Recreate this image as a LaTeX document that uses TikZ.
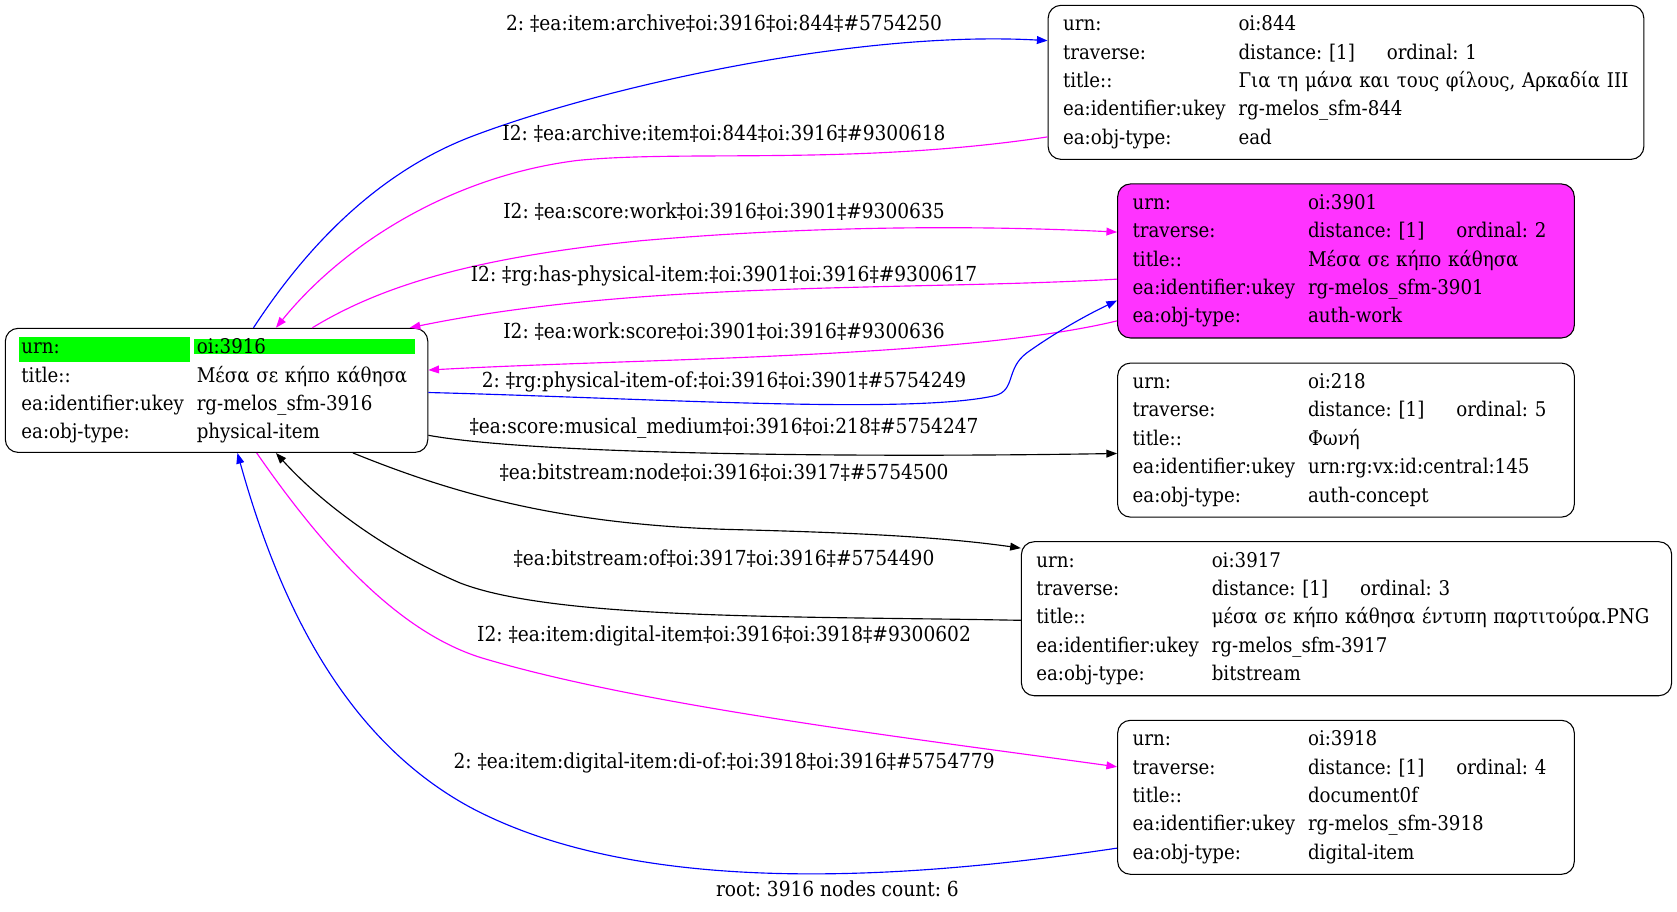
\documentclass[tikz,border=0pt]{standalone}
\usepackage{fontspec}
\setmainfont{DejaVu Serif Condensed}
\usetikzlibrary{positioning,arrows.meta,calc}
\definecolor{hotpink}{RGB}{255,51,255}
\definecolor{edgepink}{RGB}{255,0,255}
\tikzset{>={Triangle[length=7.5pt,width=5.5pt]}}
\tikzset{recbox/.style={draw, rounded corners=9pt, line width=0.75pt, align=left,
		inner xsep=10.5pt, inner ysep=0pt, minimum height=108pt,
		font=\fontsize{14.2}{19.9}\selectfont}}
\tikzset{elabel/.style={font=\fontsize{14.5}{16}\selectfont, inner sep=0pt}}
\tikzset{edge/.style={->, line width=0.8pt}}
\newcommand{\kv}[2]{\makebox[123pt][l]{#1}#2}
\newcommand{\trav}[1]{\kv{traverse:}{\makebox[104pt][l]{distance: [1]}ordinal: #1}}
\frenchspacing

\begin{document}
\begin{tikzpicture}[x=0.75pt,y=-0.75pt]
		\useasboundingbox (0,0) rectangle (1568,852);
		
		% records
		\node[recbox, minimum height=87pt, text width=273.75pt, inner xsep=11.25pt] (n3916) at (202.5,365) {%
			\setlength{\fboxsep}{0pt}\rlap{\hspace*{-1.5pt}\colorbox{green}{\makebox[120pt][l]{\rule[-5.6pt]{0pt}{17.25pt}\hspace{1.5pt}urn:}}\hspace{2.25pt}\colorbox{green}{\makebox[155.25pt][l]{\hspace{2.25pt}oi:3916}}}\\
			\kv{title::}{Μέσα σε κήπο κάθησα}\\
			\kv{ea:identifier:ukey}{rg-melos\_sfm-3916}\\
			\kv{ea:obj-type:}{physical-item}};
		\node[recbox, text width=396.75pt] (n844) at (1258.5,77) {%
			\kv{urn:}{oi:844}\\ \trav{1}\\
			\kv{title::}{Για τη μάνα και τους φίλους, Αρκαδία III}\\
			\kv{ea:identifier:ukey}{rg-melos\_sfm-844}\\
			\kv{ea:obj-type:}{ead}};
		\node[recbox, fill=hotpink, text width=299.25pt] (n3901) at (1258.5,244) {%
			\kv{urn:}{oi:3901}\\ \trav{2}\\
			\kv{title::}{Μέσα σε κήπο κάθησα}\\
			\kv{ea:identifier:ukey}{rg-melos\_sfm-3901}\\
			\kv{ea:obj-type:}{auth-work}};
		\node[recbox, text width=299.25pt] (n218) at (1258.5,411.5) {%
			\kv{urn:}{oi:218}\\ \trav{5}\\
			\kv{title::}{Φωνή}\\
			\kv{ea:identifier:ukey}{urn:rg:vx:id:central:145}\\
			\kv{ea:obj-type:}{auth-concept}};
		\node[recbox, text width=435pt] (n3917) at (1259,578.5) {%
			\kv{urn:}{oi:3917}\\ \trav{3}\\
			\kv{title::}{μέσα σε κήπο κάθησα έντυπη παρτιτούρα.PNG}\\
			\kv{ea:identifier:ukey}{rg-melos\_sfm-3917}\\
			\kv{ea:obj-type:}{bitstream}};
		\node[recbox, text width=299.25pt] (n3918) at (1258.5,745.5) {%
			\kv{urn:}{oi:3918}\\ \trav{4}\\
			\kv{title::}{document0f}\\
			\kv{ea:identifier:ukey}{rg-melos\_sfm-3918}\\
			\kv{ea:obj-type:}{digital-item}};
		
		% edges
		\draw[edge, blue] ($(n3916.north)+(34.5,0)$) .. controls (300,210) and (370,155) .. (440,128)
			.. controls (560,82) and (800,28) .. ($(n844.west)+(0,-39)$);
		\draw[edge, edgepink] ($(n844.west)+(0,51)$) .. controls (800,155) and (640,140) .. (540,150)
			.. controls (420,165) and (320,230) .. ($(n3916.north)+(55.5,0)$);
		\draw[edge, edgepink] ($(n3916.north)+(89.5,0)$) .. controls (360,265) and (450,240) .. (600,225)
			.. controls (750,212) and (900,210) .. ($(n3901.west)+(0,-27)$);
		\draw[edge, edgepink] ($(n3901.west)+(0,17)$) .. controls (850,272) and (600,262) .. ($(n3916.north)+(180.5,0)$);
		\draw[edge, edgepink] ($(n3901.west)+(0,56)$) .. controls (900,335) and (600,335) .. ($(n3916.east)+(0,-19)$);
		\draw[edge, blue] ($(n3916.east)+(0,2)$) .. controls (600,372) and (850,388) .. (930,370)
			.. controls (950,365) and (940,345) .. (960,330) .. controls (985,312) and (1015,295) .. ($(n3901.west)+(0,37)$);
		\draw[edge] ($(n3916.east)+(0,42)$) .. controls (500,425) and (800,428) .. ($(n218.west)+(0,12.5)$);
		\draw[edge] ($(n3916.south)+(127.5,0)$) .. controls (420,460) and (520,490) .. (680,495)
			.. controls (800,498) and (880,502) .. ($(n3917.west)+(0,-66)$);
		\draw[edge] ($(n3917.west)+(0,1.5)$) .. controls (750,576) and (520,580) .. (430,545)
			.. controls (360,515) and (300,470) .. ($(n3916.south)+(55.5,0)$);
		\draw[edge, edgepink] ($(n3916.south)+(37.5,0)$) .. controls (300,510) and (370,590) .. (450,615)
			.. controls (600,660) and (850,690) .. ($(n3918.west)+(0,-28.5)$);
		\draw[edge, blue] ($(n3918.west)+(0,47.5)$) .. controls (850,822) and (600,840) .. (440,755)
			.. controls (320,690) and (260,560) .. ($(n3916.south)+(19.5,0)$);
		
		% edge labels
		\node[elabel] (l844a) at (677,22) {2: ‡ea:item:archive‡oi:3916‡oi:844‡\#5754250};
		\node[elabel] (l844b) at (677,125) {I2: ‡ea:archive:item‡oi:844‡oi:3916‡\#9300618};
		\node[elabel] (l3901a) at (677,198) {I2: ‡ea:score:work‡oi:3916‡oi:3901‡\#9300635};
		\node[elabel] (l3901b) at (677,258) {I2: ‡rg:has-physical-item:‡oi:3901‡oi:3916‡\#9300617};
		\node[elabel] (l3901c) at (677,310) {I2: ‡ea:work:score‡oi:3901‡oi:3916‡\#9300636};
		\node[elabel] (l3901d) at (677,357) {2: ‡rg:physical-item-of:‡oi:3916‡oi:3901‡\#5754249};
		\node[elabel] (l218) at (677,400) {‡ea:score:musical\_medium‡oi:3916‡oi:218‡\#5754247};
		\node[elabel] (l3917a) at (677,442) {‡ea:bitstream:node‡oi:3916‡oi:3917‡\#5754500};
		\node[elabel] (l3917b) at (677,522) {‡ea:bitstream:of‡oi:3917‡oi:3916‡\#5754490};
		\node[elabel] (l3918a) at (677,595) {I2: ‡ea:item:digital-item‡oi:3916‡oi:3918‡\#9300602};
		\node[elabel] (l3918b) at (677,713) {2: ‡ea:item:digital-item:di-of:‡oi:3918‡oi:3916‡\#5754779};
		\node[elabel] (footer) at (783,831) {root: 3916 nodes count: 6};
	\end{tikzpicture}
\end{document}
